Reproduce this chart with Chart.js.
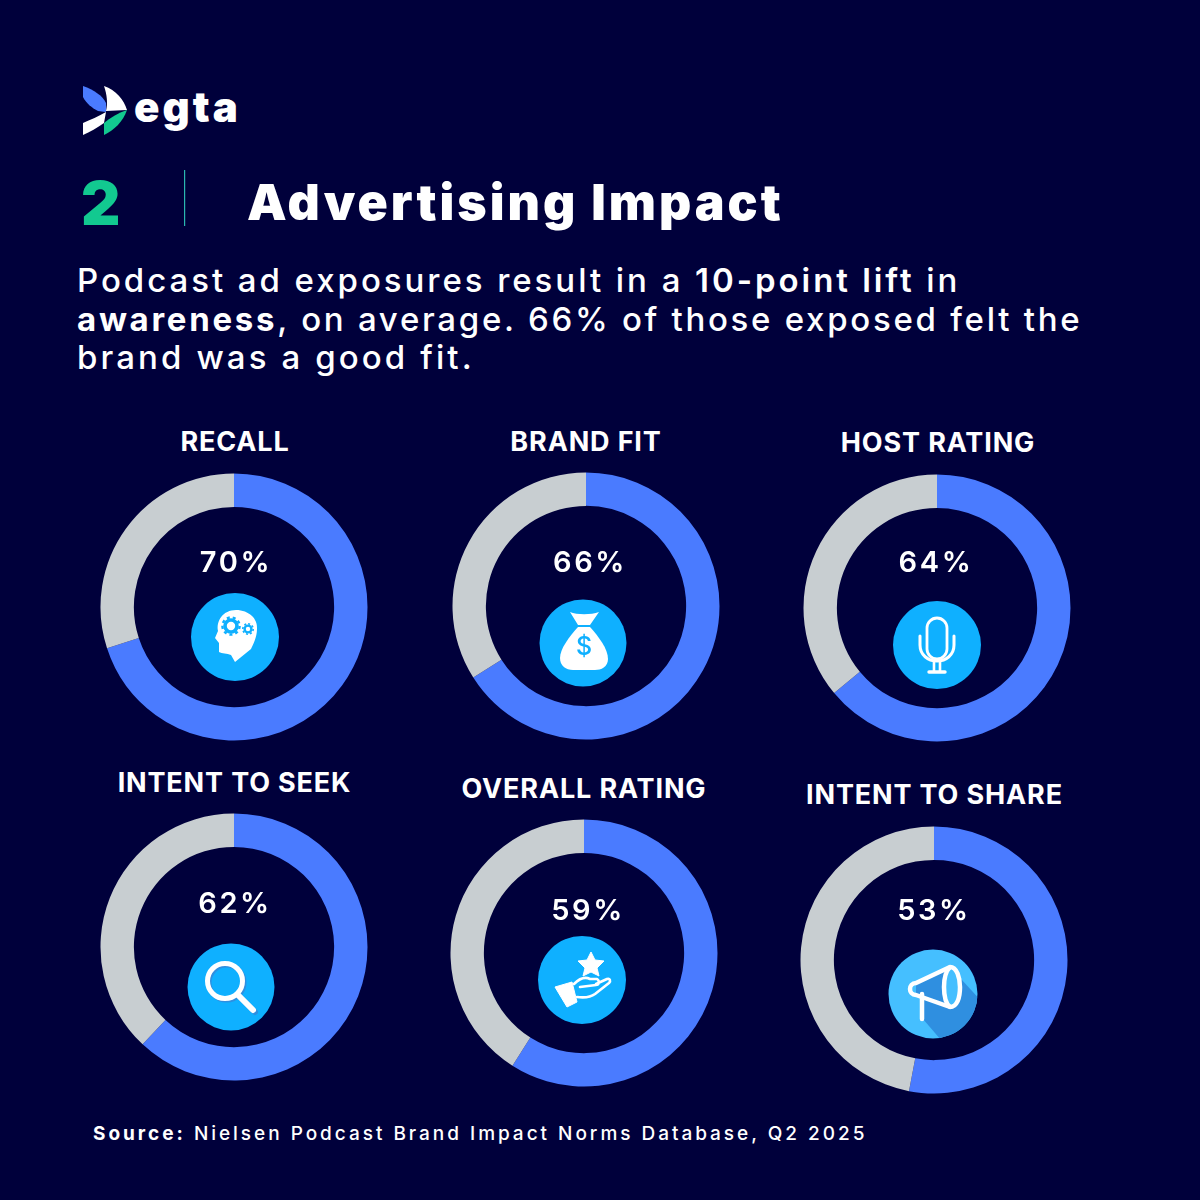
<!DOCTYPE html>
<html>
<head>
<meta charset="utf-8">
<title>Advertising Impact</title>
<script src="https://cdn.jsdelivr.net/npm/chart.js@4"></script>
<style>
  html, body { margin: 0; padding: 0; background: #00003b; }
  #page { position: relative; width: 1200px; height: 1200px; overflow: hidden; background: #00003b; color: #fff; font-family: Inter, "Open Sans", sans-serif; }
  .txt { position: absolute; white-space: nowrap; line-height: 1; }
  .center { transform: translateX(-50%); }
  canvas { position: absolute; }
  svg { position: absolute; overflow: visible; }
  b { font-weight: 600; }
  b.heavy { font-weight: 700; }
</style>
</head>
<body>
<div id="page">
  <svg style="left:0;top:0" width="1200" height="1200">
    <path d="M83 86 C94 90 103 96 106 103 L106 112 L98 111 C92 108 86 103 83 97 Z" fill="#4a7bff"/>
    <path d="M104 86 C116 90 124 100 127 110 L106 111 C108 103 107 95 104 86 Z" fill="#fff"/>
    <path d="M83 135 L83 123 C90 120 99 116 106 112 L104 123 C97 128 90 132 83 135 Z" fill="#fff"/>
    <path d="M127 110 C123 122 114 130 104 135 L104 123 C110 118 118 113 127 110 Z" fill="#12c990"/>
    <rect x="184" y="170" width="1.2" height="56" fill="#2ab7b0"/>
  </svg>
  <div class="txt" style="left:134px;top:86px;font-size:42px;font-weight:900;letter-spacing:3px">egta</div>
  <div class="txt" style="left:81px;top:173px;font-size:61px;font-weight:900;color:#12c990">2</div>
  <div class="txt" style="left:247px;top:177px;font-size:50px;font-weight:900;letter-spacing:3px">Advertising Impact</div>
  <div class="txt" style="left:77px;top:264px;font-size:33px;font-weight:500;letter-spacing:2.95px">Podcast ad exposures result in a <b>10-point lift</b> in</div>
  <div class="txt" style="left:77px;top:303px;font-size:33px;font-weight:500;letter-spacing:2.72px"><b class="heavy">awareness</b>, on average. 66% of those exposed felt the</div>
  <div class="txt" style="left:77px;top:341px;font-size:33px;font-weight:500;letter-spacing:3.1px">brand was a good fit.</div>
  <div class="txt" style="left:93px;top:1124px;font-size:19px;font-weight:500;letter-spacing:2.97px"><b class="heavy">Source:</b> Nielsen Podcast Brand Impact Norms Database, Q2 2025</div>
</div>
<script>
const categories = ['RECALL', 'BRAND FIT', 'HOST RATING', 'INTENT TO SEEK', 'OVERALL RATING', 'INTENT TO SHARE']
const exposed = [70, 66, 64, 62, 59, 53]
const remainder = [30, 34, 36, 38, 41, 47]

const colors = { filled: '#4a7bff', rest: '#c8ced1', badge: '#0fb0ff', badgeLight: '#45bfff', shade: '#2f8fe0' }

// where each ring sits on the poster: ring centre, title y, percent y, badge centre
const layout = [
  { x: 234, y: 606.5, titleX: 235, titleY: 441, pctX: 236, pctY: 562, iconX: 235, iconY: 637, r: 44 },
  { x: 585.5, y: 606, titleX: 586, titleY: 441, pctX: 590, pctY: 562, iconX: 583, iconY: 642.5, r: 43.5 },
  { x: 937, y: 607.5, titleX: 938, titleY: 442, pctX: 936, pctY: 562, iconX: 937, iconY: 645, r: 44 },
  { x: 233.5, y: 947, titleX: 234.5, titleY: 782, pctX: 235, pctY: 903, iconX: 231, iconY: 987, r: 43.5 },
  { x: 584, y: 953, titleX: 584, titleY: 788.5, pctX: 588, pctY: 909.5, iconX: 582, iconY: 980, r: 44 },
  { x: 934, y: 960, titleX: 934.5, titleY: 794.5, pctX: 934, pctY: 909.5, iconX: 933, iconY: 994, r: 44.5 }
]

const icons = [
  // head with gears
  `<path d="M1 -27 C14 -27 23 -18 22 -8 C22 0 18 8 16 12 L0 25 L-4 18 C-8 16 -13 17 -16 15 L-16 6 L-20 1 L-17 -6 C-19 -16 -12 -27 1 -27 Z" fill="#fff"/>
   <circle cx="-4" cy="-11" r="6" fill="none" stroke="${colors.badge}" stroke-width="3.6"/>
   <circle cx="-4" cy="-11" r="8.6" fill="none" stroke="${colors.badge}" stroke-width="2.4" stroke-dasharray="3 3"/>
   <circle cx="13" cy="-8" r="3.4" fill="none" stroke="${colors.badge}" stroke-width="2.4"/>
   <circle cx="13" cy="-8" r="5.2" fill="none" stroke="${colors.badge}" stroke-width="1.6" stroke-dasharray="2 2"/>`,
  // money bag
  `<path d="M-13 -31 C-6 -28 8 -28 16 -31 L7 -18 L-5 -18 Z" fill="#fff"/>
   <path d="M-5 -16 L7 -16 C16 -6 25 6 25 16 C25 24 18 27 12 27 L-10 27 C-17 27 -23 23 -23 15 C-23 6 -14 -6 -5 -16 Z" fill="#fff"/>
   <text x="1" y="12" text-anchor="middle" font-family="Inter" font-weight="500" font-size="25" fill="${colors.badge}">$</text>`,
  // microphone
  `<rect x="-10" y="-27" width="20" height="41" rx="10" fill="none" stroke="#fff" stroke-width="2.8"/>
   <path d="M-17 -9 L-17 0 C-17 10 -9 16 0 16 C9 16 17 10 17 0 L17 -9" fill="none" stroke="#fff" stroke-width="3" stroke-linecap="round"/>
   <path d="M-3 16 L-3 26 M3 16 L3 26" stroke="#fff" stroke-width="2.6"/>
   <path d="M-8 27 L8 27" stroke="#fff" stroke-width="3.4" stroke-linecap="round"/>`,
  // magnifier
  `<circle cx="-4.5" cy="-4.5" r="17.5" fill="none" stroke="${colors.shade}" stroke-width="5"/>
   <path d="M9 10 L24 25" stroke="${colors.shade}" stroke-width="6" stroke-linecap="round"/>
   <circle cx="-6" cy="-6" r="17.5" fill="none" stroke="#fff" stroke-width="5"/>
   <path d="M7 8 L22 23" stroke="#fff" stroke-width="6" stroke-linecap="round"/>`,
  // hand holding a star
  `<path d="M9 -28 L13 -20 L22 -19 L15 -12 L17 -4 L9 -8 L1 -4 L3 -12 L-4 -19 L5 -20 Z" fill="#fff" stroke="#fff" stroke-linejoin="round"/>
   <path d="M-27 7 L-10 2 L-5 22 L-15 27 Z" fill="#fff" stroke="#fff" stroke-linejoin="round"/>
   <path d="M-8 4 C-2 -2 4 -3 8 -1 L15 -1 C18 1 17 5 14 5 L-2 7 M14 4 L25 -1 C28 -2 29 1 27 3 L13 14 C9 17 3 18 -5 17" fill="none" stroke="#fff" stroke-width="2.6" stroke-linecap="round" stroke-linejoin="round"/>`,
  // megaphone with long shadow
  `<defs><clipPath id="badge6"><circle r="44.5"/></clipPath></defs>
   <path d="M17 -27 L60 20 L20 60 L-10 25 L-10 0 Z" fill="${colors.shade}" clip-path="url(#badge6)"/>
   <path d="M-17 -11 L17 -27 C11 -22 12 -14 12 -7 C12 2 13 9 17 13 L-17 1 Z" fill="${colors.shade}"/>
   <path d="M17 -27 C24 -27 27 -16 27 -7 C27 4 24 13 17 13 C12 9 11 2 11 -7 C11 -14 12 -22 17 -27 Z" fill="${colors.badgeLight}"/>
   <path d="M-17 -11 L17 -27 C24 -27 27 -16 27 -7 C27 4 24 13 17 13 L-17 1 C-25 1 -25 -11 -17 -11 Z" fill="none" stroke="#fff" stroke-width="4.5" stroke-linejoin="round"/>
   <path d="M17 -27 C12 -22 11 -14 11 -7 C11 2 12 9 17 13" fill="none" stroke="#fff" stroke-width="4.5"/>
   <path d="M-11 0 L-11 25" stroke="#fff" stroke-width="4.5" stroke-linecap="round"/>`
]

const page = document.getElementById('page')
const ringBox = 280

function addText(style, text) {
  const el = document.createElement('div')
  el.className = 'txt center'
  el.style.cssText = style
  el.textContent = text
  page.appendChild(el)
}

categories.forEach((name, i) => {
  const spot = layout[i]
  const canvas = document.createElement('canvas')
  canvas.width = ringBox
  canvas.height = ringBox
  canvas.style.left = (spot.x - ringBox / 2) + 'px'
  canvas.style.top = (spot.y - ringBox / 2) + 'px'
  canvas.style.width = ringBox + 'px'
  canvas.style.height = ringBox + 'px'
  page.appendChild(canvas)

  new Chart(canvas, {
    type: 'doughnut',
    data: {
      labels: ['Exposed', 'Rest'],
      datasets: [{
        data: [exposed[i], remainder[i]],
        backgroundColor: [colors.filled, colors.rest],
        borderWidth: 0
      }]
    },
    options: {
      responsive: false,
      animation: false,
      radius: 133.5,
      cutout: '75%',
      layout: { padding: 0 },
      plugins: { legend: { display: false }, tooltip: { enabled: false } }
    }
  })

  addText(`left:${spot.titleX}px;top:${spot.titleY - 13.5}px;font-size:27px;font-weight:700;letter-spacing:0.85px`, name)
  addText(`left:${spot.pctX}px;top:${spot.pctY - 15}px;font-size:29px;font-weight:600;letter-spacing:2.6px`, exposed[i] + '%')

  const fill = i === 5 ? colors.badgeLight : colors.badge
  const svg = document.createElementNS('http://www.w3.org/2000/svg', 'svg')
  svg.setAttribute('width', 2)
  svg.setAttribute('height', 2)
  svg.style.left = spot.iconX + 'px'
  svg.style.top = spot.iconY + 'px'
  svg.innerHTML = `<circle r="${spot.r}" fill="${fill}"/>` + icons[i]
  page.appendChild(svg)
})
</script>
</body>
</html>
